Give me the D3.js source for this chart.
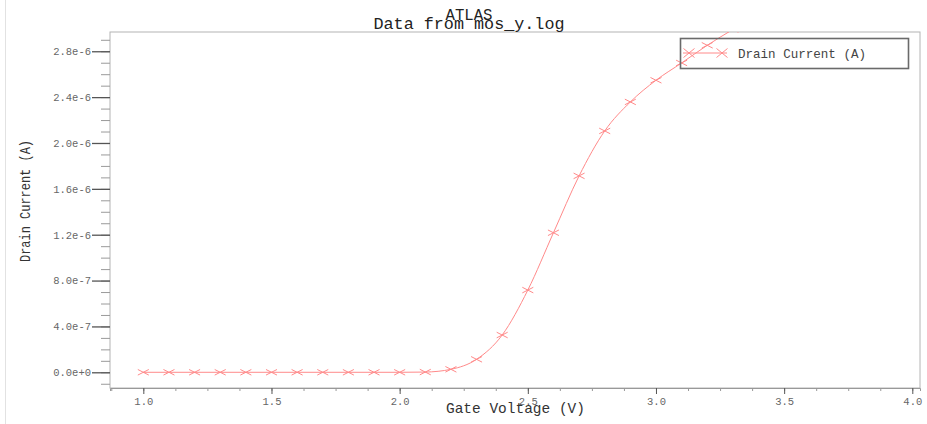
<!DOCTYPE html>
<html>
<head>
<meta charset="utf-8">
<script src="https://cdn.jsdelivr.net/npm/d3@7"></script>
<style>
  body { margin: 0; background: #fff; }
  svg { display: block; }
</style>
</head>
<body>
<svg id="chart" width="927" height="424"></svg>
<script>
// gate voltage sweep (V)
var gateVoltage = [1.0, 1.1, 1.2, 1.3, 1.4, 1.5, 1.6, 1.7, 1.8, 1.9, 2.0, 2.1,
                   2.2, 2.3, 2.4, 2.5, 2.6, 2.7, 2.8, 2.9, 3.0, 3.1, 3.2, 3.3];
// drain current (A)
var drainCurrent = [0, 0, 0, 0, 0, 0, 0, 0, 0, 0, 0, 0.002e-6,
                    0.026e-6, 0.113e-6, 0.325e-6, 0.717e-6, 1.217e-6, 1.713e-6,
                    2.105e-6, 2.358e-6, 2.547e-6, 2.698e-6, 2.852e-6, 2.99e-6];

var xMajor = [1.0, 1.5, 2.0, 2.5, 3.0, 3.5, 4.0];
var xMinor = d3.range(0.875, 4.01, 0.125);
var yMajor = d3.range(0, 2.81e-6, 0.4e-6);
var yMinor = d3.range(-0.1e-6, 2.95e-6, 0.1e-6);

var titleTop = "ATLAS",
    titleSub = "Data from mos_y.log",
    xTitle = "Gate Voltage (V)",
    yTitle = "Drain Current (A)",
    seriesName = "Drain Current (A)";

var mono = "'Liberation Mono', 'DejaVu Sans Mono', monospace";
var lineColour = "#ff8a8a";

var svg = d3.select("#chart");
// (window.top is read-only, so don't call these top/bottom)
var plotL = 110, plotR = 920, plotT = 32, plotB = 388;

var x = d3.scaleLinear().domain([0.87, 4.03]).range([plotL, plotR]);
var y = d3.scaleLinear().domain([-0.137e-6, 2.968e-6]).range([plotB, plotT]);

// thin border of the screenshot on the far left
svg.append("line")
    .attr("x1", 5.5).attr("x2", 5.5).attr("y1", 0).attr("y2", 424)
    .attr("stroke", "#e2e2e2");

// plot frame
svg.append("rect")
    .attr("x", plotL).attr("y", plotT)
    .attr("width", plotR - plotL).attr("height", plotB - plotT)
    .attr("fill", "none").attr("stroke", "#b4b4b4").attr("stroke-width", 1);

svg.append("clipPath").attr("id", "plotclip")
  .append("rect")
    .attr("x", plotL).attr("y", plotT)
    .attr("width", plotR - plotL).attr("height", plotB - plotT);

// y axis: minor then major ticks
svg.append("g")
    .attr("transform", `translate(${plotL},0)`)
    .call(d3.axisLeft(y).tickValues(yMinor).tickSize(9).tickFormat(""))
    .call(g => g.select(".domain").remove())
    .call(g => g.selectAll("line").attr("stroke", "#9a9a9a"));

svg.append("g")
    .attr("transform", `translate(${plotL},0)`)
    .call(d3.axisLeft(y).tickValues(yMajor).tickSize(18).tickPadding(1).tickFormat(d3.format(".1e")))
    .call(g => g.select(".domain").remove())
    .call(g => g.selectAll("line").attr("stroke", "#555").attr("stroke-width", 1.3))
    .call(g => g.selectAll("text")
        .attr("fill", "#666")
        .style("font", `10.5px ${mono}`));

// x axis
svg.append("g")
    .attr("transform", `translate(0,${plotB})`)
    .call(d3.axisBottom(x).tickValues(xMinor).tickSize(3).tickFormat(""))
    .call(g => g.select(".domain").attr("stroke", "#999"))
    .call(g => g.selectAll("line").attr("stroke", "#999"));

svg.append("g")
    .attr("transform", `translate(0,${plotB})`)
    .call(d3.axisBottom(x).tickValues(xMajor).tickSize(6).tickPadding(4).tickFormat(d3.format(".1f")))
    .call(g => g.select(".domain").remove())
    .call(g => g.selectAll("line").attr("stroke", "#555"))
    .call(g => g.selectAll("text")
        .attr("fill", "#666")
        .style("font", `10.5px ${mono}`));

// titles (they overlap in the original too)
svg.append("text")
    .attr("x", 469).attr("y", 19.5)
    .attr("text-anchor", "middle")
    .attr("fill", "#222")
    .style("font", `16px ${mono}`)
    .attr("textLength", 47).attr("lengthAdjust", "spacingAndGlyphs")
    .text(titleTop);

svg.append("text")
    .attr("x", 469).attr("y", 28.5)
    .attr("text-anchor", "middle")
    .attr("fill", "#222")
    .style("font", `16px ${mono}`)
    .attr("textLength", 191).attr("lengthAdjust", "spacingAndGlyphs")
    .text(titleSub);

svg.append("text")
    .attr("x", 515.5).attr("y", 413)
    .attr("text-anchor", "middle")
    .attr("fill", "#333")
    .style("font", `15px ${mono}`)
    .attr("textLength", 139).attr("lengthAdjust", "spacingAndGlyphs")
    .text(xTitle);

svg.append("text")
    .attr("transform", "translate(30,201) rotate(-90)")
    .attr("text-anchor", "middle")
    .attr("fill", "#333")
    .style("font", `15px ${mono}`)
    .attr("textLength", 122).attr("lengthAdjust", "spacingAndGlyphs")
    .text(yTitle);

// series
var data = gateVoltage.map((v, i) => ({v: v, i: drainCurrent[i]}));
var cross = "M-5.5,-2.8L5.5,2.8M-5.5,2.8L5.5,-2.8";

var plot = svg.append("g").attr("clip-path", "url(#plotclip)");

plot.append("path")
    .datum(data)
    .attr("fill", "none")
    .attr("stroke", lineColour)
    .attr("stroke-width", 1)
    .attr("d", d3.line().x(d => x(d.v)).y(d => y(d.i)).curve(d3.curveMonotoneX));

plot.selectAll(".mk")
  .data(data)
  .join("path")
    .attr("class", "mk")
    .attr("transform", d => `translate(${x(d.v)},${y(d.i)})`)
    .attr("d", cross)
    .attr("fill", "none")
    .attr("stroke", lineColour)
    .attr("stroke-width", 1);

// legend - box is not filled, the curve shows through it
var lg = svg.append("g");
lg.append("rect")
    .attr("x", 680.5).attr("y", 38.5)
    .attr("width", 228).attr("height", 30)
    .attr("fill", "none").attr("stroke", "#6a6a6a").attr("stroke-width", 1.6);
lg.append("line")
    .attr("x1", 683).attr("x2", 727).attr("y1", 53).attr("y2", 53)
    .attr("stroke", lineColour);
lg.selectAll(".lm")
  .data([689, 722])
  .join("path")
    .attr("class", "lm")
    .attr("transform", d => `translate(${d},53)`)
    .attr("d", "M-5.5,-4.5L5.5,4.5M-5.5,4.5L5.5,-4.5")
    .attr("fill", "none")
    .attr("stroke", lineColour);
lg.append("text")
    .attr("x", 738).attr("y", 57.5)
    .attr("fill", "#444")
    .style("font", `13px ${mono}`)
    .attr("textLength", 128).attr("lengthAdjust", "spacingAndGlyphs")
    .text(seriesName);
</script>
</body>
</html>
